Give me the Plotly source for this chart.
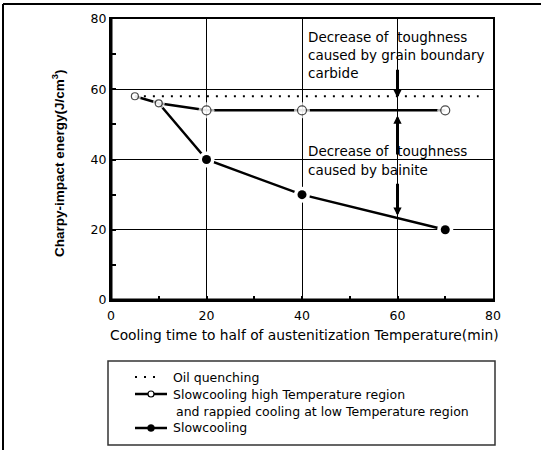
import plotly.graph_objects as go

# ---- data ----
x_oil = [5, 77]
y_oil = [58, 58]
x_rapid = [5, 10, 20, 40, 70]
y_rapid = [58, 56, 54, 54, 54]
x_slow = [10, 20, 40, 70]
y_slow = [56, 40, 30, 20]
x_tickvals = [0, 20, 40, 60, 80]
y_tickvals = [0, 20, 40, 60, 80]
legend_labels = [
    "Oil quenching",
    "Slowcooling high Temperature region",
    "and rappied cooling at low Temperature region",
    "Slowcooling",
]
x_title = "Cooling time to half of austenitization Temperature(min)"
y_title = "<b>Charpy-impact energy(J/cm<sup>3</sup>)</b>"
note1 = ["Decrease of\u00a0\u00a0toughness", "caused by grain boundary", "carbide"]
note2 = ["Decrease of\u00a0\u00a0toughness", "caused by bainite"]
# arrows: (x, tail, head)
arrows = [(60, 66, 57.5), (60, 41, 52.5), (60, 33.5, 24)]

FONT = "DejaVu Sans"
W, H = 541, 450
ML, MR, MT, MB = 111, 48, 19, 150
PW, PH = W - ML - MR, H - MT - MB


def px(xp):
    return (xp - ML) / PW


def py(yp):
    return (H - MB - yp) / PH


fig = go.Figure()

# oil quenching dotted line
fig.add_trace(go.Scatter(x=x_oil, y=y_oil, mode="lines", name=legend_labels[0],
                         line=dict(color="black", width=2, dash="2px,7px"), showlegend=False))
# series lines
fig.add_trace(go.Scatter(x=x_rapid, y=y_rapid, mode="lines", showlegend=False,
                         line=dict(color="black", width=2.5), hoverinfo="skip"))
fig.add_trace(go.Scatter(x=x_slow, y=y_slow, mode="lines", showlegend=False,
                         line=dict(color="black", width=2.5), hoverinfo="skip"))
# white halos (gaps around markers)
fig.add_trace(go.Scatter(x=x_rapid, y=y_rapid, mode="markers", showlegend=False,
                         marker=dict(color="white", size=[12, 12, 16, 16, 16], line=dict(width=0)),
                         hoverinfo="skip"))
fig.add_trace(go.Scatter(x=x_slow[1:], y=y_slow[1:], mode="markers", showlegend=False,
                         marker=dict(color="white", size=16, line=dict(width=0)),
                         hoverinfo="skip"))
# markers
fig.add_trace(go.Scatter(x=x_rapid, y=y_rapid, mode="markers", showlegend=False,
                         name=legend_labels[1],
                         marker=dict(color="white", size=[7, 7, 9, 9, 9], symbol="circle",
                                     line=dict(color="black", width=1.2))))
fig.add_trace(go.Scatter(x=x_slow[1:], y=y_slow[1:], mode="markers", showlegend=False,
                         name=legend_labels[3],
                         marker=dict(color="black", size=9, symbol="circle",
                                     line=dict(color="black", width=0))))

annotations = []
line_y1 = [75.0, 69.8, 64.6]
for t, yy in zip(note1, line_y1):
    annotations.append(dict(x=40.8, y=yy, xref="x", yref="y", text=t, showarrow=False,
                            xanchor="left", yanchor="middle",
                            font=dict(family=FONT, size=13.5, color="black")))
line_y2 = [42.5, 37.0]
for t, yy in zip(note2, line_y2):
    annotations.append(dict(x=40.8, y=yy, xref="x", yref="y", text=t, showarrow=False,
                            xanchor="left", yanchor="middle",
                            font=dict(family=FONT, size=13.5, color="black")))
for ax_, tail, head in arrows:
    annotations.append(dict(x=ax_, y=head, ax=ax_, ay=tail, xref="x", yref="y",
                            axref="x", ayref="y", text="", showarrow=True,
                            arrowhead=2, arrowsize=0.55, arrowwidth=3, arrowcolor="black",
                            standoff=0, startstandoff=0))
# axis titles
annotations.append(dict(x=px(304), y=py(335), xref="paper", yref="paper", text=x_title,
                        showarrow=False, xanchor="center", yanchor="middle",
                        font=dict(family=FONT, size=13.8, color="black")))
annotations.append(dict(x=px(58), y=py(163), xref="paper", yref="paper", text=y_title,
                        showarrow=False, xanchor="center", yanchor="middle", textangle=-90,
                        font=dict(family="Liberation Sans", size=13.5, color="black")))

# legend texts
legend_text_pos = [(171, 377), (171, 394), (174, 411), (171, 428)]
for t, (lx, ly) in zip(legend_labels, legend_text_pos):
    annotations.append(dict(x=px(lx), y=py(ly), xref="paper", yref="paper", text=t,
                            showarrow=False, xanchor="left", yanchor="middle",
                            font=dict(family=FONT, size=12.5, color="black")))

shapes = [
    # legend box
    dict(type="rect", xref="paper", yref="paper", x0=px(108), x1=px(495), y0=py(361), y1=py(445),
         line=dict(color="#333333", width=1.5), fillcolor="rgba(0,0,0,0)"),
    # outer frame (left and top)
    dict(type="line", xref="paper", yref="paper", x0=px(3), x1=px(3),
         y0=py(4), y1=py(452), line=dict(color="black", width=2)),
    dict(type="line", xref="paper", yref="paper", x0=px(3), x1=px(545),
         y0=py(4), y1=py(4), line=dict(color="black", width=2)),
    # thicker left and bottom axis lines
    dict(type="line", xref="paper", yref="paper", x0=0, x1=0, y0=0, y1=1,
         line=dict(color="black", width=3)),
    dict(type="line", xref="paper", yref="paper", x0=0, x1=1, y0=0, y1=0,
         line=dict(color="black", width=3)),
    # legend samples
    dict(type="line", xref="paper", yref="paper", x0=px(135), x1=px(162),
         y0=py(377), y1=py(377), line=dict(color="black", width=2, dash="2px,7px")),
    dict(type="line", xref="paper", yref="paper", x0=px(135), x1=px(167),
         y0=py(394), y1=py(394), line=dict(color="black", width=2.5)),
    dict(type="line", xref="paper", yref="paper", x0=px(135), x1=px(167),
         y0=py(428), y1=py(428), line=dict(color="black", width=2.5)),
    dict(type="circle", xref="paper", yref="paper", x0=px(148), x1=px(154),
         y0=py(391), y1=py(397), fillcolor="white", line=dict(color="black", width=1.2)),
    dict(type="circle", xref="paper", yref="paper", x0=px(147.5), x1=px(154.5),
         y0=py(424.5), y1=py(431.5), fillcolor="black", line=dict(color="black", width=0.5)),
]

axis_common = dict(
    showline=True, linecolor="black", linewidth=2, mirror=True,
    showgrid=True, gridcolor="black", gridwidth=1,
    zeroline=False, ticks="inside", ticklen=4, tickcolor="black", tickwidth=2,
    tickfont=dict(family=FONT, size=12.5, color="black"),
)
fig.update_layout(
    width=W, height=H,
    margin=dict(l=ML, r=MR, t=MT, b=MB),
    plot_bgcolor="white", paper_bgcolor="white",
    font=dict(family=FONT, size=12, color="black"),
    xaxis=dict(range=[0, 80], tickvals=x_tickvals, ticktext=[str(v) for v in x_tickvals],
               ticklabelstandoff=3, automargin=False,
               minor=dict(dtick=10, ticks="inside", ticklen=4, tickcolor="black", tickwidth=2,
                          showgrid=False),
               **axis_common),
    yaxis=dict(range=[0, 80], tickvals=y_tickvals, ticktext=[str(v) for v in y_tickvals],
               automargin=False,
               minor=dict(dtick=10, ticks="inside", ticklen=5, tickcolor="black", tickwidth=2,
                          showgrid=False),
               **axis_common),
    showlegend=False,
    annotations=annotations,
    shapes=shapes,
)

fig.write_html("out.html")
